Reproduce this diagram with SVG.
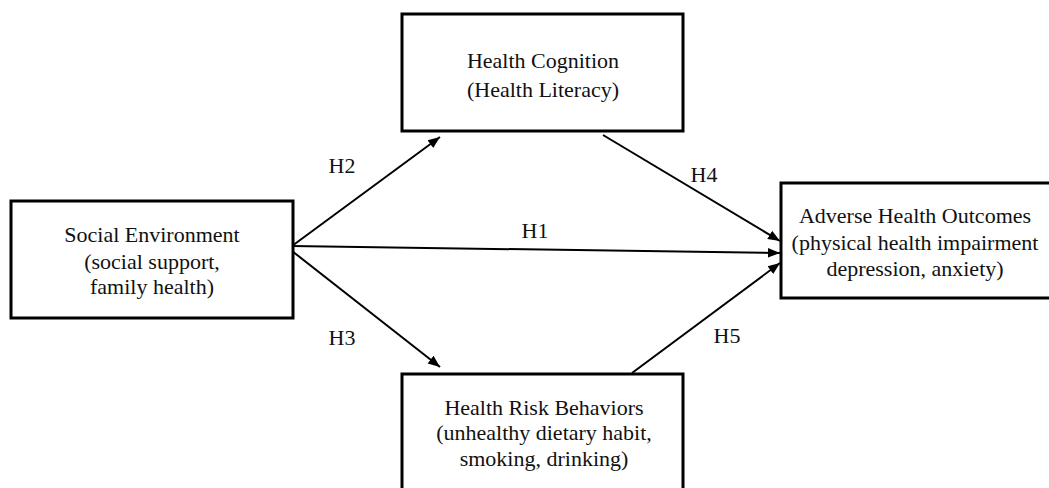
<svg xmlns="http://www.w3.org/2000/svg" width="1049" height="488" viewBox="0 0 1049 488">
<style>
.box{fill:#fff;stroke:#000;stroke-width:3}
.t{font-family:"Liberation Serif","Times New Roman",serif;font-size:22px;fill:#111;text-anchor:middle}
.c{stroke:#000;stroke-width:2;fill:none;marker-end:url(#ah)}
</style>
<defs>
<marker id="ah" viewBox="0 0 10 10" refX="10" refY="5" markerWidth="6" markerHeight="6" markerUnits="strokeWidth" orient="auto">
<path d="M0,1 L10,5 L0,9 Z" fill="#000"/>
</marker>
</defs>
<rect width="1049" height="488" fill="#fff"/>
<g id="connectors">
<line class="c" x1="292" y1="246" x2="440" y2="137"/>
<line class="c" x1="292" y1="251" x2="440" y2="367"/>
<line class="c" x1="292" y1="246" x2="780" y2="253"/>
<line class="c" x1="603" y1="135" x2="780" y2="241"/>
<line class="c" x1="632" y1="373" x2="780" y2="263"/>
<text class="t" x="342" y="173">H2</text>
<text class="t" x="342" y="345">H3</text>
<text class="t" x="535" y="238">H1</text>
<text class="t" x="704" y="182">H4</text>
<text class="t" x="727" y="343">H5</text>
</g>
<g id="social">
<rect class="box" x="11" y="201" width="282" height="117"/>
<text class="t" x="152" y="242">Social Environment</text>
<text class="t" x="152" y="269">(social support,</text>
<text class="t" x="152" y="294">family health)</text>
</g>
<g id="cognition">
<rect class="box" x="402" y="14" width="281" height="117"/>
<text class="t" x="543" y="68">Health Cognition</text>
<text class="t" x="543" y="97">(Health Literacy)</text>
</g>
<g id="risk">
<rect class="box" x="402" y="374" width="281" height="125"/>
<text class="t" x="544" y="415">Health Risk Behaviors</text>
<text class="t" x="544" y="440">(unhealthy dietary habit,</text>
<text class="t" x="544" y="466">smoking, drinking)</text>
</g>
<g id="outcomes">
<rect class="box" x="781" y="183" width="280" height="115"/>
<text class="t" x="915" y="223">Adverse Health Outcomes</text>
<text class="t" x="915" y="250">(physical health impairment</text>
<text class="t" x="915" y="276">depression, anxiety)</text>
</g>
</svg>
